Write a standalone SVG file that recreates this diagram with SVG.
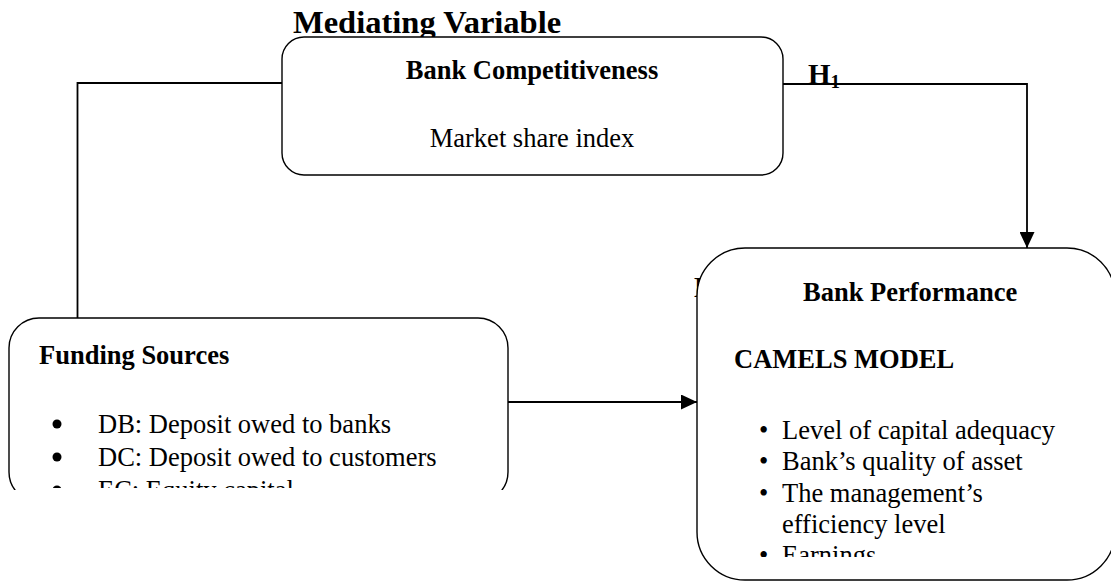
<svg xmlns="http://www.w3.org/2000/svg" width="1111" height="582" viewBox="0 0 1111 582">
<style>
  .box { fill: #ffffff; stroke: #000000; stroke-width: 1.4; }
  .conn { fill: none; stroke: #000000; stroke-width: 1.8; }
  .t { font-family: "Liberation Serif", "Times New Roman", serif; fill: #000000; }
  .b { font-weight: bold; }
  .s { font-size: 26.5px; }
</style>
<defs>
  <marker id="arr" viewBox="0 0 16 15" refX="16" refY="7.5" markerWidth="16" markerHeight="15" markerUnits="userSpaceOnUse" orient="auto">
    <path d="M0,0 L16,7.5 L0,15 z" fill="#000000"/>
  </marker>
  <clipPath id="clipFund"><rect x="0" y="300" width="540" height="190"/></clipPath>
  <clipPath id="clipFundText"><rect x="0" y="300" width="540" height="188"/></clipPath>
  <clipPath id="clipPerfText"><rect x="697" y="248" width="414" height="309"/></clipPath>
</defs>

<g id="title">
  <text class="t b" x="293" y="33" font-size="32.5">Mediating Variable</text>
</g>

<g id="h2-label">
  <text class="t b" x="694" y="297" font-size="29">H<tspan font-size="19" dy="4">2</tspan></text>
</g>

<g id="connectors">
  <polyline class="conn" points="282,83 77.5,83 77.5,318"/>
  <line class="conn" x1="508" y1="402" x2="697" y2="402" marker-end="url(#arr)"/>
  <polyline class="conn" points="783,84 1027,84 1027,248" marker-end="url(#arr)"/>
</g>

<g id="bank-competitiveness">
  <rect class="box" x="282" y="37" width="501" height="138" rx="22" ry="22"/>
  <text class="t b s" x="532" y="79" text-anchor="middle">Bank Competitiveness</text>
  <text class="t s" x="532" y="147" text-anchor="middle">Market share index</text>
</g>

<g id="h1-label">
  <text class="t b" x="808" y="84" font-size="29">H<tspan font-size="19" dy="4">1</tspan></text>
</g>

<g id="funding-sources" clip-path="url(#clipFund)">
  <rect class="box" x="9" y="318" width="499" height="184" rx="30" ry="30"/>
  <g clip-path="url(#clipFundText)">
    <text class="t b s" x="39" y="364">Funding Sources</text>
    <circle cx="57" cy="424" r="4.5" fill="#000000"/>
    <text class="t s" x="98" y="433">DB: Deposit owed to banks</text>
    <circle cx="57" cy="457" r="4.5" fill="#000000"/>
    <text class="t s" x="98" y="466">DC: Deposit owed to customers</text>
    <circle cx="57" cy="490" r="4.5" fill="#000000"/>
    <text class="t s" x="98" y="499">EC: Equity capital</text>
  </g>
</g>

<g id="bank-performance">
  <rect class="box" x="697" y="248" width="418" height="332" rx="48" ry="48"/>
  <text class="t b s" x="803" y="301">Bank Performance</text>
  <text class="t b s" x="734" y="368">CAMELS MODEL</text>
  <g clip-path="url(#clipPerfText)">
    <text class="t s" x="759" y="439">•</text>
    <text class="t s" x="782" y="439">Level of capital adequacy</text>
    <text class="t s" x="759" y="470">•</text>
    <text class="t s" x="782" y="470">Bank’s quality of asset</text>
    <text class="t s" x="759" y="502">•</text>
    <text class="t s" x="782" y="502">The management’s</text>
    <text class="t s" x="782" y="533">efficiency level</text>
    <text class="t s" x="759" y="564">•</text>
    <text class="t s" x="782" y="564">Earnings</text>
  </g>
</g>
</svg>
